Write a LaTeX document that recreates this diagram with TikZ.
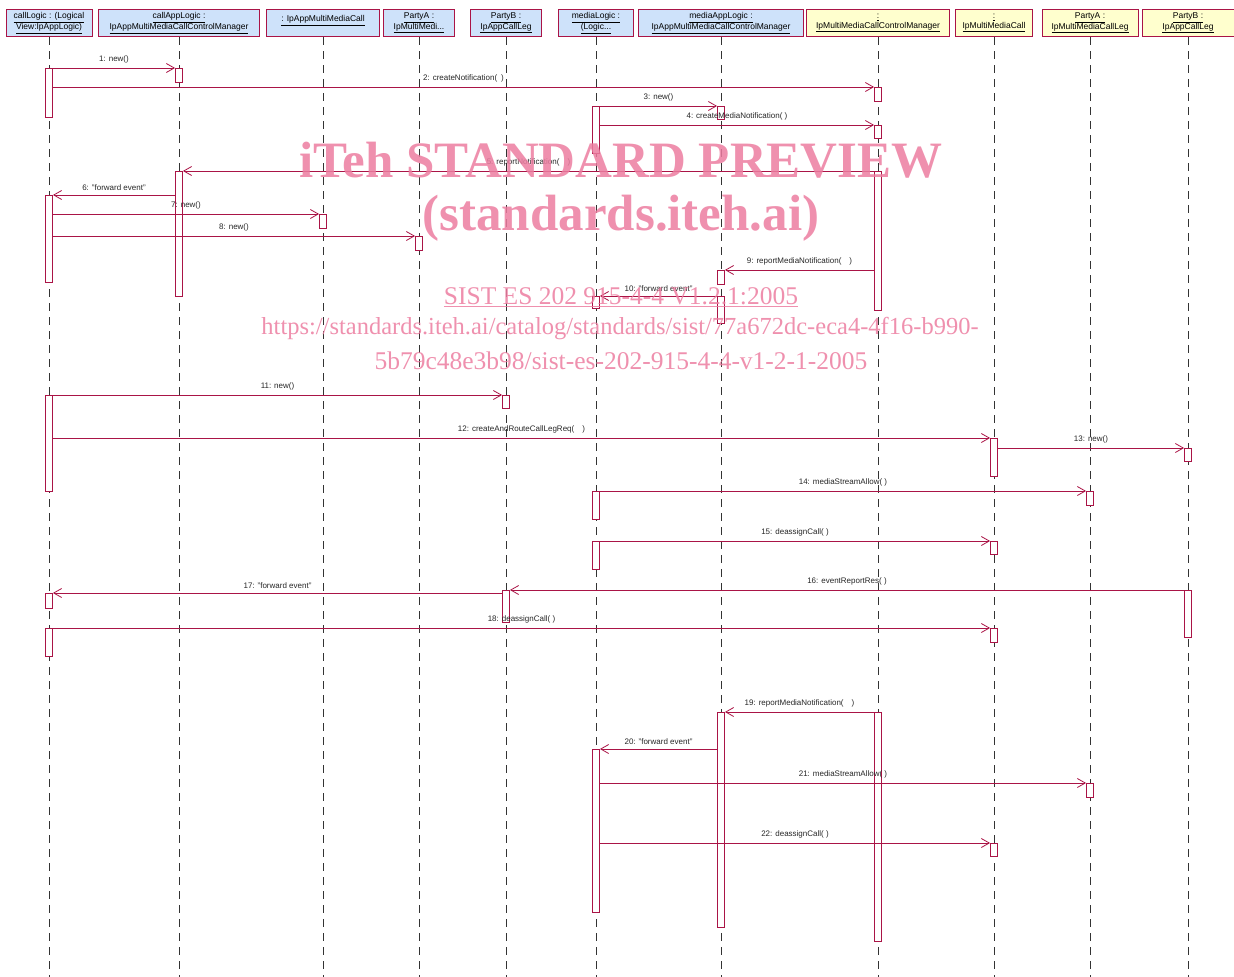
\documentclass[tikz,border=0pt]{standalone}
\usepackage{fontspec}
\setmainfont{Liberation Sans}
\newfontfamily\wmfont{Liberation Serif}
\usetikzlibrary{arrows.meta}

\definecolor{umlred}{RGB}{170,20,70}
\definecolor{objblue}{RGB}{206,226,250}
\definecolor{objyellow}{RGB}{255,255,206}
\definecolor{wmpink}{RGB}{236,125,160}

\tikzset{
  obj/.style={draw=umlred, line width=1pt, minimum height=27pt, inner sep=1pt,
    align=center, font=\fontsize{8.5}{9.5}\selectfont},
  appobj/.style={obj, fill=objblue},
  netobj/.style={obj, fill=objyellow},
  lifeline/.style={draw=black!80, line width=0.9pt, dash pattern=on 8pt off 6pt},
  actbox/.style={draw=umlred, fill=white, line width=0.8pt, minimum width=7pt,
    inner sep=0pt, anchor=north},
  msg/.style={draw=umlred, line width=0.8pt, -{Straight Barb[length=8pt,width=9pt]}},
  msglabel/.style={font=\fontsize{8}{8.5}\selectfont, text=black!85, above=1pt, midway},
  wm/.style={text=wmpink, opacity=0.85, inner sep=0pt}
}
% activation box: name, lifeline, top, bottom
\newcommand{\actv}[4]{\node[actbox, minimum height=#4pt-#3pt] (#1) at (#2 |- 0,#3) {};}

\begin{document}
\begin{tikzpicture}[x=1pt,y=-1pt]
\useasboundingbox (0,0) rectangle (1234,977);

% objects
\node[appobj, minimum width=86pt] (cl) at (49,23) {\underline{callLogic : (Logical}\\\underline{View:IpAppLogic)}};
\node[appobj, minimum width=161pt] (cal) at (179,23) {\underline{callAppLogic :}\\\underline{IpAppMultiMediaCallControlManager}};
\node[appobj, minimum width=113pt, text depth=9pt] (amc) at (323,23) {\underline{: IpAppMultiMediaCall}};
\node[appobj, minimum width=71pt] (pa) at (419,23) {\underline{PartyA :}\\\underline{IpMultiMedi...}};
\node[appobj, minimum width=71pt] (pb) at (506,23) {\underline{PartyB :}\\\underline{IpAppCallLeg}};
\node[appobj, minimum width=75pt] (ml) at (596,23) {\underline{mediaLogic :}\\\underline{(Logic...}};
\node[appobj, minimum width=165pt] (mal) at (721,23) {\underline{mediaAppLogic :}\\\underline{IpAppMultiMediaCallControlManager}};
\node[netobj, minimum width=143pt] (mccm) at (878,23) {\underline{:}\\\underline{IpMultiMediaCallControlManager}};
\node[netobj, minimum width=77pt] (mc) at (994,23) {\underline{:}\\\underline{IpMultiMediaCall}};
\node[netobj, minimum width=96pt] (pa2) at (1090,23) {\underline{PartyA :}\\\underline{IpMultiMediaCallLeg}};
\node[netobj, minimum width=92pt] (pb2) at (1188,23) {\underline{PartyB :}\\\underline{IpAppCallLeg}};

% lifelines
\foreach \o in {cl,cal,amc,pa,pb,ml,mal,mccm,mc,pa2,pb2}
  \draw[lifeline] (\o.south) -- (\o.south |- 0,977);

% activations
\actv{a1}{cl}{68}{117}   \actv{b1}{cal}{68}{82}
\actv{c2}{mccm}{87}{101}
\actv{m3}{ml}{106}{153}  \actv{d3}{mal}{106}{119}
\actv{c4}{mccm}{125}{138}
\actv{c5}{mccm}{171}{310} \actv{b5}{cal}{171}{296}
\actv{a6}{cl}{195}{282}
\actv{e7}{amc}{214}{228}
\actv{f8}{pa}{236}{250}
\actv{d9}{mal}{270}{284}
\actv{d10}{mal}{296}{323} \actv{m10}{ml}{296}{308}
\actv{a11}{cl}{395}{491} \actv{g11}{pb}{395}{408}
\actv{h12}{mc}{438}{476}
\actv{k13}{pb2}{448}{461}
\actv{m14}{ml}{491}{519} \actv{j14}{pa2}{491}{505}
\actv{m15}{ml}{541}{569} \actv{h15}{mc}{541}{554}
\actv{k16}{pb2}{590}{637} \actv{g16}{pb}{590}{622}
\actv{a17}{cl}{593}{608}
\actv{a18}{cl}{628}{656} \actv{h18}{mc}{628}{642}
\actv{c19}{mccm}{712}{941} \actv{d19}{mal}{712}{927}
\actv{m20}{ml}{749}{912}
\actv{j21}{pa2}{783}{797}
\actv{h22}{mc}{843}{856}

% messages
\draw[msg] (a1.east |- b1.north) -- (b1.north west) node[msglabel] {1: new()};
\draw[msg] (a1.east |- c2.north) -- (c2.north west) node[msglabel] {2: createNotification(\hspace{4pt})};
\draw[msg] (m3.north east) -- (d3.north west) node[msglabel] {3: new()};
\draw[msg] (m3.east |- c4.north) -- (c4.north west) node[msglabel] {4: createMediaNotification( )};
\draw[msg] (c5.north west) -- (b5.north east) node[msglabel] {5: reportNotification(\hspace{8pt})};
\draw[msg] (b5.west |- a6.north) -- (a6.north east) node[msglabel] {6: "forward event"};
\draw[msg] (a6.east |- e7.north) -- (e7.north west) node[msglabel] {7: new()};
\draw[msg] (a6.east |- f8.north) -- (f8.north west) node[msglabel] {8: new()};
\draw[msg] (c5.west |- d9.north) -- (d9.north east) node[msglabel] {9: reportMediaNotification(\hspace{8pt})};
\draw[msg] (d10.north west) -- (m10.north east) node[msglabel] {10: "forward event"};
\draw[msg] (a11.north east) -- (g11.north west) node[msglabel] {11: new()};
\draw[msg] (a11.east |- h12.north) -- (h12.north west) node[msglabel] {12: createAndRouteCallLegReq(\hspace{8pt})};
\draw[msg] (h12.east |- k13.north) -- (k13.north west) node[msglabel] {13: new()};
\draw[msg] (m14.north east) -- (j14.north west) node[msglabel] {14: mediaStreamAllow( )};
\draw[msg] (m15.north east) -- (h15.north west) node[msglabel] {15: deassignCall( )};
\draw[msg] (k16.north west) -- (g16.north east) node[msglabel] {16: eventReportRes( )};
\draw[msg] (g16.west |- a17.north) -- (a17.north east) node[msglabel] {17: "forward event"};
\draw[msg] (a18.north east) -- (h18.north west) node[msglabel] {18: deassignCall( )};
\draw[msg] (c19.north west) -- (d19.north east) node[msglabel] {19: reportMediaNotification(\hspace{8pt})};
\draw[msg] (d19.west |- m20.north) -- (m20.north east) node[msglabel] {20: "forward event"};
\draw[msg] (m20.east |- j21.north) -- (j21.north west) node[msglabel] {21: mediaStreamAllow( )};
\draw[msg] (m20.east |- h22.north) -- (h22.north west) node[msglabel] {22: deassignCall( )};

% watermark
\node[wm, font=\wmfont\bfseries\fontsize{51}{51}\selectfont] (wm1) at (621,160) {iTeh STANDARD PREVIEW};
\node[wm, font=\wmfont\bfseries\fontsize{51}{51}\selectfont] (wm2) at (621,218) {(standards.iteh.ai)};
\node[wm, font=\wmfont\fontsize{25.5}{25.5}\selectfont] (wm3) at (621,297) {\underline{SIST ES 202 915-4-4 V1.2.1:2005}};
\node[wm, font=\wmfont\fontsize{24.5}{24.5}\selectfont] (wm4) at (620,329) {https://standards.iteh.ai/catalog/standards/sist/77a672dc-eca4-4f16-b990-};
\node[wm, font=\wmfont\fontsize{25.5}{25.5}\selectfont] (wm5) at (621,361) {5b79c48e3b98/sist-es-202-915-4-4-v1-2-1-2005};
\end{tikzpicture}
\end{document}
